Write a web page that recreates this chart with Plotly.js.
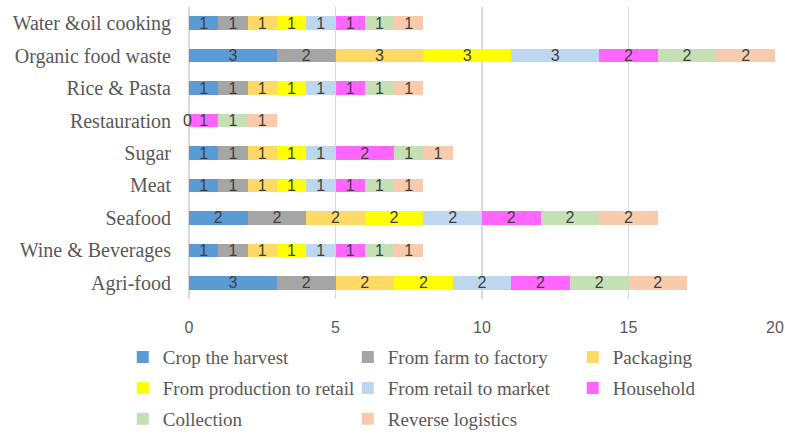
<!DOCTYPE html>
<html>
<head>
<meta charset="utf-8">
<script src="https://cdn.plot.ly/plotly-3.0.1.min.js"></script>
<style>html,body{margin:0;padding:0;background:#fff;}#chart{width:785px;height:435px;}</style>
</head>
<body>
<div id="chart"></div>
<script>
// Categories listed from top to bottom as in the picture
const categories = ["Water &oil cooking", "Organic food waste", "Rice & Pasta", "Restauration", "Sugar", "Meat", "Seafood", "Wine & Beverages", "Agri-food"];
const seriesNames = ["Crop the harvest", "From farm to factory", "Packaging", "From production to retail", "From retail to market", "Household", "Collection", "Reverse logistics"];
const cropHarvest      = [1, 3, 1, 0, 1, 1, 2, 1, 3];
const farmToFactory    = [1, 2, 1, null, 1, 1, 2, 1, 2];
const packaging        = [1, 3, 1, null, 1, 1, 2, 1, 2];
const productionRetail = [1, 3, 1, null, 1, 1, 2, 1, 2];
const retailMarket     = [1, 3, 1, null, 1, 1, 2, 1, 2];
const household        = [1, 2, 1, 1, 2, 1, 2, 1, 2];
const collection       = [1, 2, 1, 1, 1, 1, 2, 1, 2];
const reverseLogistics = [1, 2, 1, 1, 1, 1, 2, 1, 2];
const seriesValues = [cropHarvest, farmToFactory, packaging, productionRetail, retailMarket, household, collection, reverseLogistics];
const colors = ["#5b9bd5", "#a5a5a5", "#ffd966", "#ffff00", "#bdd7ee", "#ff66ff", "#c5e0b4", "#f8cbad"];
const legendIds = ["legend", "legend", "legend", "legend2", "legend2", "legend2", "legend3", "legend3"];

const labelFont = {family: "Liberation Sans, Arial, sans-serif", size: 16, color: "#404040"};

const traces = seriesValues.map((vals, i) => ({
  type: "bar",
  orientation: "h",
  name: seriesNames[i],
  y: categories,
  x: vals,
  marker: {color: colors[i], line: {width: 0}},
  text: vals.map(v => (v === null || v === 0) ? "" : String(v)),
  textposition: "inside",
  textangle: 0,
  insidetextanchor: "middle",
  constraintext: "none",
  textfont: labelFont,
  hoverinfo: "x+name",
  legend: legendIds[i]
}));

// Zero-valued label (Restauration, Crop the harvest)
const annotations = [];
cropHarvest.forEach((v, j) => {
  if (v === 0) annotations.push({x: v, y: categories[j], xref: "x", yref: "y", text: String(v), showarrow: false, xanchor: "center", xshift: -2, font: labelFont});
});

const legendFont = {family: "Liberation Serif, Times New Roman, serif", size: 19, color: "#595959"};
const legendBase = {orientation: "h", xanchor: "left", yanchor: "middle", x: -0.113, font: legendFont, entrywidth: 180, entrywidthmode: "pixels", bgcolor: "rgba(0,0,0,0)", traceorder: "normal", itemclick: false};

const layout = {
  width: 785, height: 435,
  margin: {l: 189, r: 10, t: 7, b: 136, autoexpand: false},
  paper_bgcolor: "#ffffff", plot_bgcolor: "#ffffff",
  barmode: "stack",
  bargap: 0.58,
  showlegend: true,
  xaxis: {range: [0, 20], dtick: 5, tick0: 0, showgrid: true, gridcolor: "#d9d9d9", gridwidth: 1.5,
          zeroline: true, zerolinecolor: "#d9d9d9", zerolinewidth: 1.5, showline: false, ticks: "",
          ticklabelstandoff: 17,
          tickfont: {family: "Liberation Sans, Arial, sans-serif", size: 16, color: "#595959"}, fixedrange: true},
  yaxis: {type: "category", autorange: "reversed", showgrid: false, zeroline: false, showline: false, ticks: "",
          ticklabelstandoff: 17,
          tickfont: {family: "Liberation Serif, Times New Roman, serif", size: 20, color: "#595959"}, fixedrange: true},
  legend: Object.assign({}, legendBase, {y: -0.199}),
  legend2: Object.assign({}, legendBase, {y: -0.305}),
  legend3: Object.assign({}, legendBase, {y: -0.411}),
  annotations: annotations
};

Plotly.newPlot("chart", traces, layout, {displayModeBar: false, staticPlot: true});
</script>
</body>
</html>
